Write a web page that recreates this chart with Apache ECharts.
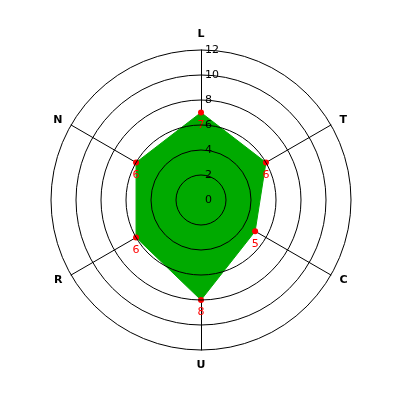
<!DOCTYPE html>
<html><head><meta charset="utf-8">
<script src="https://cdn.jsdelivr.net/npm/echarts@6/dist/echarts.min.js"></script>
<style>html,body{margin:0;padding:0;background:#fff}#c{width:400px;height:400px}</style>
</head><body><div id="c"></div>
<script>
var categories = ['L', 'T', 'C', 'U', 'R', 'N'];
var values = [7, 6, 5, 8, 6, 6];
var maxValue = 12;
var tickInterval = 2;

// ECharts radar runs counter-clockwise; reorder (keeping the first) to get clockwise order
var order = [0].concat(categories.map(function (_, i) { return i; }).slice(1).reverse());
var cats = order.map(function (i) { return categories[i]; });
var vals = order.map(function (i) { return values[i]; });

var chart = echarts.init(document.getElementById('c'), null, {renderer: 'canvas'});
var font = 'DejaVu Sans';
chart.setOption({
  animation: false,
  backgroundColor: '#ffffff',
  radar: {
    z: 1,
    center: [201, 200],
    radius: 150,
    shape: 'circle',
    startAngle: 90,
    splitNumber: maxValue / tickInterval,
    indicator: cats.map(function (c) { return {name: c, max: maxValue, min: 0}; }),
    axisName: {color: '#000', fontFamily: font, fontSize: 11, fontWeight: 'bold'},
    nameGap: 10,
    axisLine: {show: true, lineStyle: {color: '#000', width: 1}},
    splitLine: {show: false},
    splitArea: {show: false},
    axisTick: {show: false},
    axisLabel: {show: false}
  },
  polar: {center: [201, 200], radius: 150},
  angleAxis: {type: 'value', min: 0, max: 360, startAngle: 90, show: false},
  radiusAxis: {
    z: 10,
    type: 'value', min: 0, max: maxValue, interval: tickInterval,
    axisLine: {show: false},
    axisTick: {show: false},
    splitLine: {show: true, lineStyle: {color: '#000', width: 1}},
    axisLabel: {show: true, color: '#000', fontFamily: font, fontSize: 11, margin: -4, align: 'left', verticalAlign: 'middle'}
  },
  series: [{
    type: 'radar',
    z: 2,
    symbol: 'circle',
    symbolSize: 6,
    itemStyle: {color: '#ff0000'},
    lineStyle: {color: '#00aa00', width: 1},
    areaStyle: {color: '#00aa00', opacity: 1},
    label: {show: true, position: 'bottom', distance: 4, color: '#ff0000', fontFamily: font, fontSize: 11},
    data: [{value: vals}]
  }]
});
</script></body></html>
